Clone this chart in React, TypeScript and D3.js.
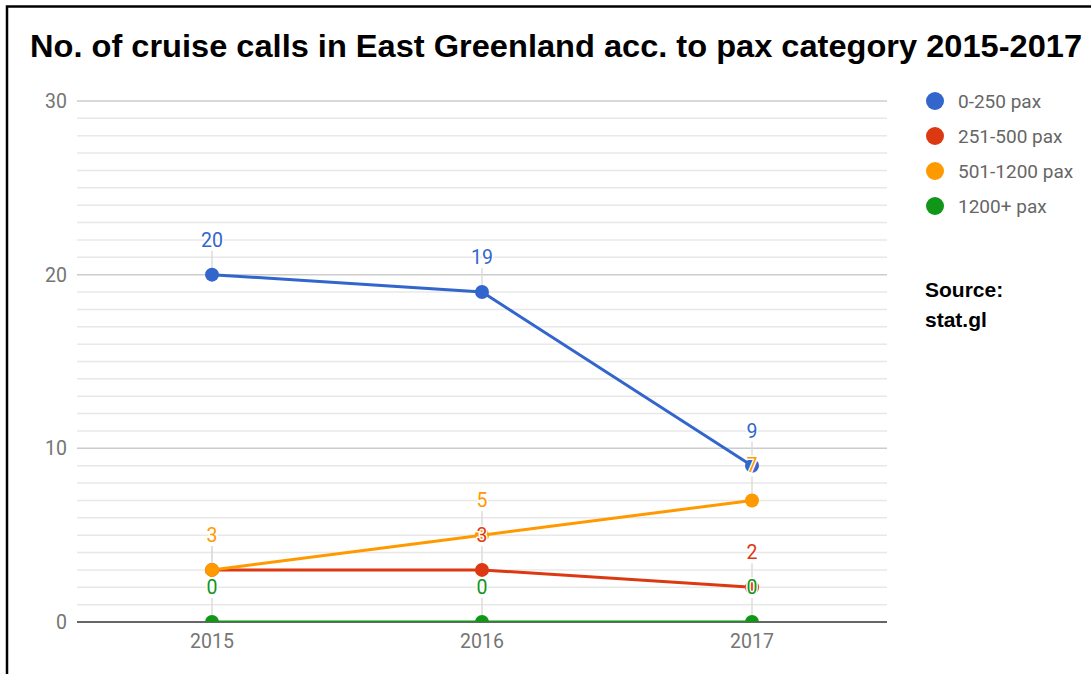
import React from 'react';
import * as d3 from 'd3';

const title = 'No. of cruise calls in East Greenland acc. to pax category 2015-2017';
const years = ['2015', '2016', '2017'];
const seriesNames = ['0-250 pax', '251-500 pax', '501-1200 pax', '1200+ pax'];
const seriesColors = ['#3366cc', '#dc3912', '#ff9900', '#109618'];
const pax0to250 = [20, 19, 9];
const pax251to500 = [3, 3, 2];
const pax501to1200 = [3, 5, 7];
const pax1200plus = [0, 0, 0];
const yTicks = [0, 10, 20, 30];
const sourceLines = ['Source:', 'stat.gl'];

const seriesValues = [pax0to250, pax251to500, pax501to1200, pax1200plus];

const W = 1091;
const H = 674;
const plot = { left: 77, right: 887, top: 101, bottom: 622 };

export default function App() {
  const x = d3.scaleBand<string>().domain(years).range([plot.left, plot.right]);
  const cx = (c: string) => (x(c) as number) + x.bandwidth() / 2;
  const y = d3.scaleLinear().domain([0, 30]).range([plot.bottom, plot.top]);
  const minor = d3.range(0, 31, 1);
  const line = d3
    .line<number>()
    .x((_, i) => cx(years[i]))
    .y((d) => y(d));
  const font = 'Roboto, "Noto Sans", sans-serif';

  return (
    <div style={{ position: 'absolute', left: 0, top: 0 }}>
      <svg width={W} height={H} style={{ display: 'block', background: '#fff' }}>
        <defs>
          <clipPath id="plotClip">
            <rect x={plot.left - 20} y={plot.top - 20} width={plot.right - plot.left + 40} height={plot.bottom - plot.top + 20} />
          </clipPath>
        </defs>
        <rect x={7} y={6.5} width={W + 20} height={H + 20} fill="#fff" stroke="#000" strokeWidth={2.5} />
        <text
          x={30}
          y={57}
          fontFamily='"Liberation Sans", Arial, sans-serif'
          fontWeight="bold"
          fontSize={32}
          textLength={1052}
          lengthAdjust="spacingAndGlyphs"
          fill="#000"
        >
          {title}
        </text>

        {/* minor grid */}
        {minor.filter((v) => v % 10 !== 0).map((v) => (
          <line key={'m' + v} x1={plot.left} x2={plot.right} y1={y(v)} y2={y(v)} stroke="#e8e8e8" strokeWidth={1.5} />
        ))}
        {yTicks.filter((v) => v !== 0).map((v) => (
          <line key={'M' + v} x1={plot.left} x2={plot.right} y1={y(v)} y2={y(v)} stroke="#cccccc" strokeWidth={1.5} />
        ))}
        {yTicks.map((v) => (
          <text key={'yt' + v} x={67} y={y(v)} dy="0.36em" textAnchor="end" fontFamily={font} fontSize={19.5} fill="#757575">
            {v}
          </text>
        ))}
        {years.map((c) => (
          <text key={'xt' + c} x={cx(c)} y={648} textAnchor="middle" fontFamily={font} fontSize={19.5} fill="#757575">
            {c}
          </text>
        ))}

        {/* annotation stems */}
        {seriesValues.map((vals, si) =>
          vals.map((v, i) => (
            <line key={`st${si}-${i}`} x1={cx(years[i])} x2={cx(years[i])} y1={y(v) - 24} y2={y(v)} stroke="#dddddd" strokeWidth={1.5} />
          ))
        )}

        {/* baseline */}
        <line x1={plot.left} x2={plot.right} y1={y(0)} y2={y(0)} stroke="#333" strokeWidth={1.5} />

        <g clipPath="url(#plotClip)">
          {seriesValues.map((vals, si) => (
            <g key={'s' + si}>
              <path d={line(vals) || ''} fill="none" stroke={seriesColors[si]} strokeWidth={3} />
              {vals.map((v, i) => (
                <circle key={i} cx={cx(years[i])} cy={y(v)} r={7} fill={seriesColors[si]} />
              ))}
            </g>
          ))}
        </g>

        {/* annotations */}
        {seriesValues.map((vals, si) =>
          vals.map((v, i) => (
            <text
              key={`a${si}-${i}`}
              x={cx(years[i])}
              y={y(v) - 28}
              textAnchor="middle"
              fontFamily={font}
              fontSize={19.5}
              fill={seriesColors[si]}
              stroke="#fff"
              strokeWidth={3}
              paintOrder="stroke"
              strokeLinejoin="round"
            >
              {v}
            </text>
          ))
        )}

        {/* legend */}
        {seriesNames.map((n, i) => (
          <g key={'l' + i} transform={`translate(935,${101 + i * 35})`}>
            <circle r={9} fill={seriesColors[i]} />
            <text x={23} dy="0.36em" fontFamily={font} fontSize={19} fill="#666">
              {n}
            </text>
          </g>
        ))}
        {sourceLines.map((s, i) => (
          <text key={'src' + i} x={925} y={297 + i * 30} fontFamily='"Liberation Sans", Arial, sans-serif' fontWeight="bold" fontSize={21} fill="#000">
            {s}
          </text>
        ))}
      </svg>
    </div>
  );
}
